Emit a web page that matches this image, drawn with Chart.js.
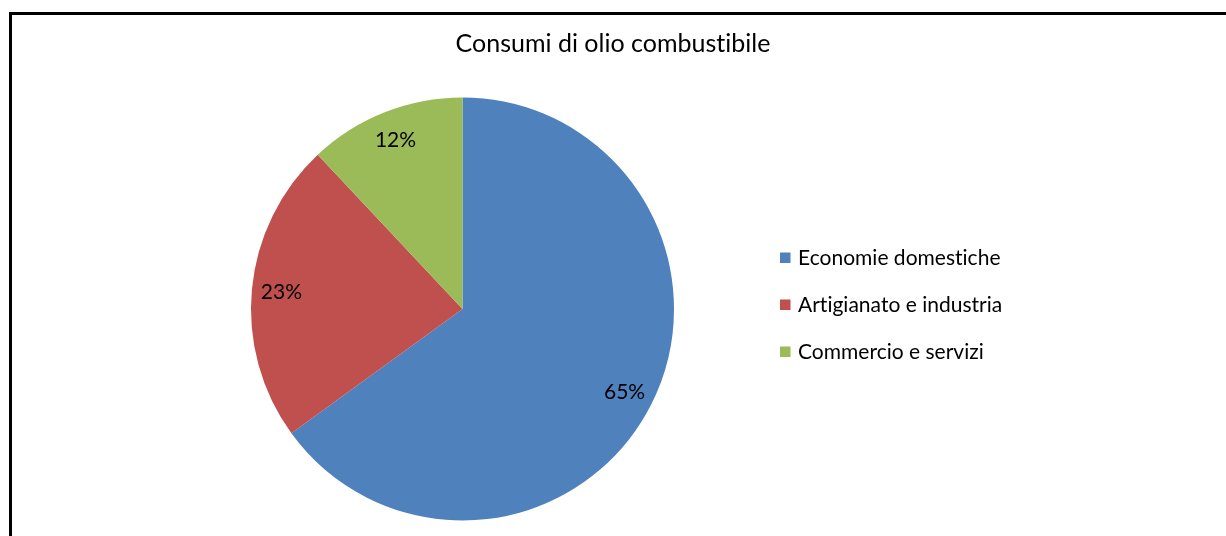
<!DOCTYPE html>
<html>
<head>
<meta charset="utf-8">
<title>Consumi di olio combustibile</title>
<script src="https://cdn.jsdelivr.net/npm/chart.js@4/dist/chart.umd.min.js"></script>
<style>
  html, body { margin: 0; padding: 0; background: #ffffff; overflow: hidden; }
  #wrap { position: relative; width: 1226px; height: 536px; }
  #frame {
    position: absolute; left: 9px; top: 12px; right: -10px; bottom: -10px;
    border-left: 3px solid #000; border-top: 3px solid #000;
  }
  #chart { position: absolute; left: 0; top: 0; }
</style>
</head>
<body>
<div id="wrap">
  <div id="frame"></div>
  <canvas id="chart" width="1226" height="536"></canvas>
</div>
<script>
// Quote dei consumi di olio combustibile per settore (%)
const chartTitle = 'Consumi di olio combustibile';
const categories = ['Economie domestiche', 'Artigianato e industria', 'Commercio e servizi'];
const shares = [65, 23, 12];
const sliceColors = ['#4F81BD', '#C0504D', '#9BBB59'];

const FONT = 'Lato, "Open Sans", sans-serif';

// Title, legend and percentage labels drawn on the chart canvas
const decorations = {
  id: 'decorations',
  afterDatasetsDraw(chart) {
    const ctx = chart.ctx;
    const meta = chart.getDatasetMeta(0);
    const values = chart.data.datasets[0].data;
    ctx.save();
    // a tiny letter spacing keeps the font's "ti" ligatures off
    if ('letterSpacing' in ctx) ctx.letterSpacing = '0.01px';
    ctx.fillStyle = '#000';
    ctx.textAlign = 'center';
    ctx.textBaseline = 'alphabetic';

    // percentage labels inside the slices
    ctx.font = '21px ' + FONT;
    meta.data.forEach((arc, i) => {
      const p = arc.getProps(['x', 'y', 'startAngle', 'endAngle', 'outerRadius'], true);
      const mid = (p.startAngle + p.endAngle) / 2;
      const r = p.outerRadius * 0.86;
      const x = p.x + Math.cos(mid) * r;
      const y = p.y + Math.sin(mid) * r;
      ctx.fillText(values[i] + '%', x, y + 7.5);
    });

    // title
    ctx.font = '25px ' + FONT;
    ctx.fillText(chartTitle, chart.width / 2, 51.5);

    // legend
    ctx.font = '21px ' + FONT;
    ctx.textAlign = 'left';
    chart.data.labels.forEach((label, i) => {
      const cy = 257.5 + 47 * i;
      ctx.fillStyle = chart.data.datasets[0].backgroundColor[i];
      ctx.fillRect(780, cy - 5, 10.5, 10.5);
      ctx.fillStyle = '#000';
      ctx.fillText(label, 798, cy + 7);
    });
    ctx.restore();
  }
};

new Chart(document.getElementById('chart'), {
  type: 'pie',
  data: {
    labels: categories,
    datasets: [{
      data: shares,
      backgroundColor: sliceColors,
      borderWidth: 0
    }]
  },
  options: {
    responsive: false,
    animation: false,
    events: [],
    rotation: 0,
    layout: { padding: { left: 250.5, right: 551.5, top: 97.5, bottom: 15.5 } },
    plugins: {
      legend: { display: false },
      title: { display: false },
      tooltip: { enabled: false }
    }
  },
  plugins: [decorations]
});
</script>
</body>
</html>
